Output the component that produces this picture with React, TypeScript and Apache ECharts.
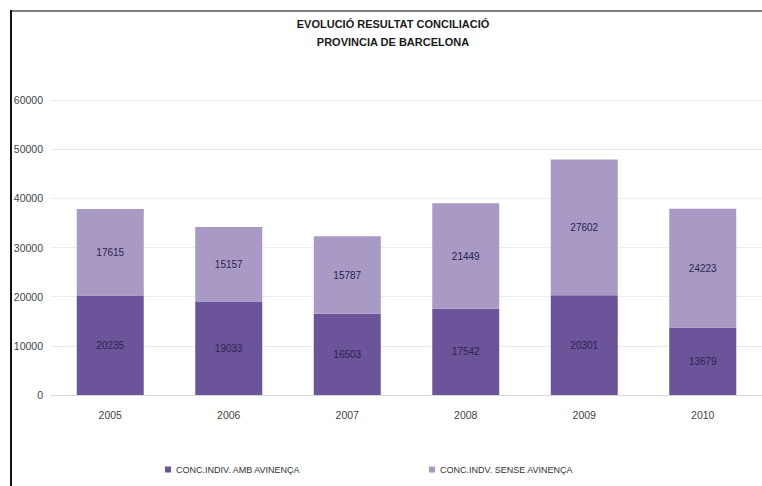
import React, { useEffect, useRef } from "react";
import * as echarts from "echarts";

const categories = ["2005", "2006", "2007", "2008", "2009", "2010"];
const ambAvinenca = [20235, 19033, 16503, 17542, 20301, 13679];
const senseAvinenca = [17615, 15157, 15787, 21449, 27602, 24223];
const seriesNames = ["CONC.INDIV. AMB AVINENÇA", "CONC.INDV. SENSE AVINENÇA"];
const titleLines = ["EVOLUCIÓ RESULTAT CONCILIACIÓ", "PROVINCIA DE BARCELONA"];

export default function App() {
  const ref = useRef<HTMLDivElement>(null);
  useEffect(() => {
    if (!ref.current) return;
    const chart = echarts.init(ref.current, undefined, { renderer: "svg" });
    const font = "'Liberation Sans', Arial, sans-serif";
    chart.setOption({
      animation: false,
      backgroundColor: "#ffffff",
      textStyle: { fontFamily: font },
      title: {
        text: titleLines.join("\n"),
        left: 388,
        textAlign: "center",
        top: 10,
        textStyle: {
          fontSize: 11,
          fontWeight: "bold",
          color: "#1a1a1a",
          lineHeight: 18,
          fontFamily: font,
        },
      },
      legend: [
        {
          data: [seriesNames[0]],
          left: 160,
          top: 460,
          itemWidth: 6,
          itemHeight: 6,
          icon: "rect",
          textStyle: { fontSize: 9, color: "#333", fontFamily: font },
        },
        {
          data: [seriesNames[1]],
          left: 424,
          top: 460,
          itemWidth: 6,
          itemHeight: 6,
          icon: "rect",
          textStyle: { fontSize: 9, color: "#333", fontFamily: font },
        },
      ],
      grid: { left: 51, right: -4, top: 100, bottom: 91, containLabel: false },
      xAxis: {
        type: "category",
        data: categories,
        axisLine: { show: true, lineStyle: { color: "#d9d9d9", width: 1 } },
        axisTick: { show: false },
        axisLabel: { fontSize: 10.5, color: "#444", margin: 14, fontFamily: font },
      },
      yAxis: {
        type: "value",
        min: 0,
        max: 60000,
        interval: 10000,
        axisLine: { show: false },
        axisTick: { show: false },
        axisLabel: {
          fontSize: 10.5,
          color: "#444",
          margin: 8,
          fontFamily: font,
          formatter: (v: number) => String(v),
        },
        splitLine: { show: true, lineStyle: { color: "#ececec", width: 1 } },
      },
      series: [
        {
          name: seriesNames[0],
          type: "bar",
          stack: "total",
          data: ambAvinenca,
          barWidth: 67,
          itemStyle: { color: "#6b5499" },
          label: {
            show: true,
            position: "inside",
            fontSize: 10,
            color: "#2a2550",
            fontFamily: font,
          },
        },
        {
          name: seriesNames[1],
          type: "bar",
          stack: "total",
          data: senseAvinenca,
          barWidth: 67,
          itemStyle: { color: "#a899c5" },
          label: {
            show: true,
            position: "inside",
            fontSize: 10,
            color: "#2a2550",
            fontFamily: font,
          },
        },
      ],
      graphic: [
        {
          type: "rect",
          shape: { x: 0, y: 0, width: 11, height: 486 },
          style: { fill: "#ffffff" },
          z: 100,
        },
        {
          type: "line",
          shape: { x1: 11, y1: 11, x2: 762, y2: 11 },
          style: { stroke: "#555", lineWidth: 1.5 },
          z: 101,
        },
        {
          type: "line",
          shape: { x1: 11, y1: 10, x2: 11, y2: 486 },
          style: { stroke: "#111", lineWidth: 2 },
          z: 101,
        },
      ],
    });
    return () => chart.dispose();
  }, []);
  return (
    <div style={{ position: "fixed", left: 0, top: 0, width: 762, height: 486, overflow: "hidden" }}>
      <div ref={ref} style={{ width: 762, height: 486 }} />
    </div>
  );
}
